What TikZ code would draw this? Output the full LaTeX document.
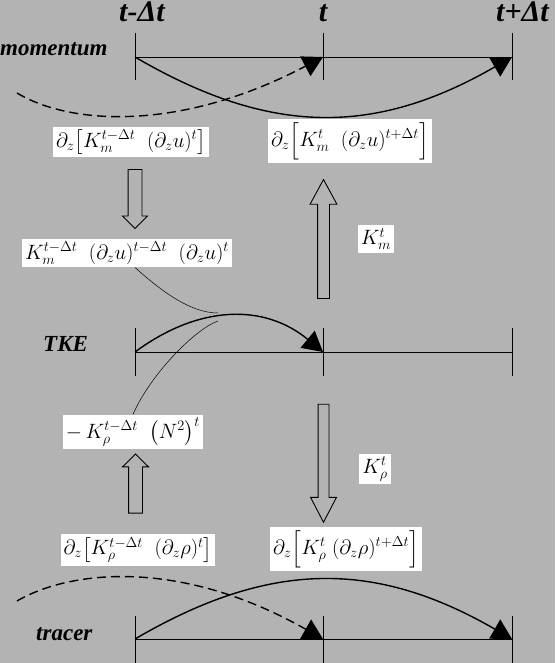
\documentclass[tikz,border=0pt]{standalone}
\usepackage{amsmath}
\usepackage{fontspec}
\newfontfamily\lblfont{Liberation Serif}
\usetikzlibrary{arrows.meta, shapes.arrows, positioning}
\definecolor{bggray}{RGB}{179,179,179}

\begin{document}
\begin{tikzpicture}[x=1pt, y=-1pt,
    lbl/.style={font=\lblfont\bfseries\itshape\fontsize{23}{26}\selectfont, inner sep=0pt},
    tlbl/.style={font=\lblfont\bfseries\itshape\fontsize{30}{33}\selectfont, inner sep=0pt},
    eq/.style={fill=white, inner sep=3pt, font=\fontsize{20.74}{24}\selectfont},
    axis/.style={line width=0.8pt},
    flow/.style={line width=1.4pt, -{Triangle[length=20pt, width=22pt]}},
    dflow/.style={flow, dash pattern=on 9pt off 5pt},
    link/.style={line width=0.5pt},
    hollow/.style={single arrow, draw, line width=0.9pt, inner xsep=0pt, minimum width=0pt}
]
    \useasboundingbox (0,0) rectangle (555,663);
    \fill[bggray] (0,0) rectangle (555,663);

    % time levels
    \node[tlbl, anchor=base west] (tprev) at (119,22) {t-Δt};
    \node[tlbl, anchor=base] (tnow) at (323,22) {t};
    \node[tlbl, anchor=base west] (tnext) at (496,22) {t+Δt};

    % the three variables
    \node[lbl, anchor=base west] (mom) at (0,56) {momentum};
    \node[lbl, anchor=base west] (tke) at (43,351) {TKE};
    \node[lbl, anchor=base west] (trc) at (36,640) {tracer};

    \foreach \r/\y/\a/\b in {m/57/33/80, k/352/328/376, r/639/616/670} {
        \foreach \i/\x in {0/135, 1/323, 2/512} {
            \coordinate (\r\i) at (\x,\y);
            \draw[axis] (\x,\a) -- (\x,\b);
        }
        \draw[axis] (\r0) -- (\r2);
    }

    % stepping
    \coordinate (mold) at (17,93);
    \coordinate (rold) at (17,601);
    \draw[flow] (m0) .. controls (270,136) and (375,136) .. (m2);
    \draw[dflow] (mold) .. controls (70,125) and (180,132) .. (m1);
    \draw[flow] (k0) .. controls (200,304) and (265,304) .. (k1);
    \draw[flow] (r0) .. controls (270,560) and (375,560) .. (r2);
    \draw[dflow] (rold) .. controls (70,570) and (180,558) .. (r1);

    % terms
    \node[eq] (dm1) at (131,142) {$\partial_z\big[K_m^{t-\Delta t}\;\;(\partial_z u)^t\big]$};
    \node[eq] (dm2) at (350,141) {$\partial_z\Big[K_m^{t}\;\;(\partial_z u)^{t+\Delta t}\Big]$};
    \node[eq] (shear) at (127,253) {$K_m^{t-\Delta t}\;\;(\partial_z u)^{t-\Delta t}\;\;(\partial_z u)^t$};
    \node[eq] (km) at (376,239) {$K_m^t$};
    \node[eq] (buoy) at (133,432) {$-\,K_\rho^{t-\Delta t}\;\;\big(N^2\big)^t$};
    \node[eq] (kr) at (375,469) {$K_\rho^t$};
    \node[eq] (dr1) at (138,550) {$\partial_z\big[K_\rho^{t-\Delta t}\;\;(\partial_z\rho)^t\big]$};
    \node[eq] (dr2) at (346,549) {$\partial_z\Big[K_\rho^{t}\;(\partial_z\rho)^{t+\Delta t}\Big]$};

    % hollow arrows
    \node[hollow, rotate=-90, minimum height=59pt, inner ysep=6.5pt,
        single arrow head extend=5.5pt, single arrow tip angle=90] (a1) at (135,195.5) {};
    \node[hollow, rotate=90, minimum height=119pt, inner ysep=5.5pt,
        single arrow head extend=7.5pt, single arrow tip angle=57] (a2) at (323.5,244.5) {};
    \node[hollow, rotate=90, minimum height=59pt, inner ysep=6.5pt,
        single arrow head extend=6pt, single arrow tip angle=91] (a3) at (135.5,487) {};
    \node[hollow, rotate=-90, minimum height=118pt, inner ysep=5pt,
        single arrow head extend=7.5pt, single arrow tip angle=55] (a4) at (323.5,458) {};

    % production and buoyancy
    \coordinate (peakA) at (218,313);
    \coordinate (peakB) at (218,321);
    \draw[link] ([xshift=8pt]shear.south) .. controls (160,290) and (190,313) .. (peakA);
    \draw[link] (peakB) .. controls (195,329) and (150,375) .. (buoy.north);
\end{tikzpicture}
\end{document}
